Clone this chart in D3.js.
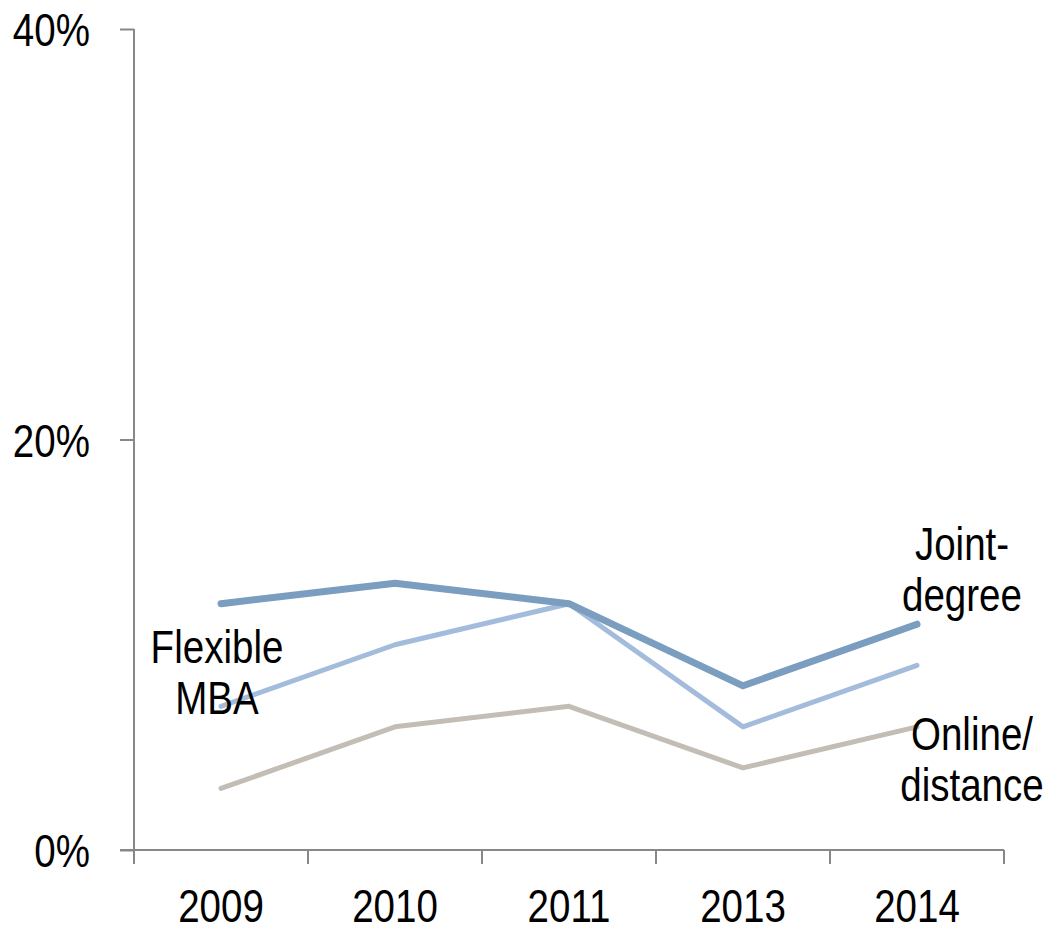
<!DOCTYPE html>
<html>
<head>
<meta charset="utf-8">
<script src="https://cdn.jsdelivr.net/npm/d3@7"></script>
<style>
  body { margin: 0; background: #fff; }
  svg text { font-family: "Liberation Sans", Arial, sans-serif; fill: #000; }
</style>
</head>
<body>
<svg id="chart" width="1049" height="926"></svg>
<script>
// data
const years = ["2009", "2010", "2011", "2013", "2014"];
const jointDegree = [12, 13, 12, 8, 11];
const flexibleMba = [7, 10, 12, 6, 9];
const onlineDistance = [3, 6, 7, 4, 6];
const yTicks = [0, 20, 40];

const series = [
  { name: "Online/distance", values: onlineDistance, color: "#c3bdb5", width: 5 },
  { name: "Flexible MBA", values: flexibleMba, color: "#a4bcdc", width: 5 },
  { name: "Joint-degree", values: jointDegree, color: "#7a9dc0", width: 7 }
];

const svg = d3.select("#chart");
const mLeft = 134, mRight = 1004, mTop = 29, mBottom = 850;
const fontSize = 47;
const squeeze = 0.82; // no narrow font installed, so squeeze Liberation Sans

// squeeze text horizontally around its anchor point
function narrow(sel) {
  sel.each(function () {
    const el = d3.select(this);
    const tx = +el.attr("x") || 0, ty = +el.attr("y") || 0;
    el.attr("transform", `translate(${tx},${ty}) scale(${squeeze},1) translate(${-tx},${-ty})`);
  });
}

const x = d3.scaleBand().domain(years).range([mLeft, mRight]);
const y = d3.scaleLinear().domain([0, 40]).range([mBottom, mTop]);

// y axis
const yAxis = svg.append("g")
  .attr("transform", `translate(${mLeft},0)`)
  .call(d3.axisLeft(y).tickValues(yTicks).tickSize(14).tickFormat(d => d + "%"));
yAxis.select(".domain").attr("stroke", "#888").attr("stroke-width", 2).attr("d", `M0,${mTop}V${mBottom}`);
yAxis.selectAll(".tick line").attr("stroke", "#888").attr("stroke-width", 2);
yAxis.selectAll(".tick text").attr("x", -44).attr("y", 0).attr("font-size", fontSize).attr("dy", "0.36em").call(narrow);

// x axis
const xAxis = svg.append("g")
  .attr("transform", `translate(0,${mBottom})`)
  .call(d3.axisBottom(x).tickSize(0).tickSizeOuter(0));
xAxis.select(".domain").attr("stroke", "#888").attr("stroke-width", 2).attr("d", `M${mLeft - 14},0H${mRight}`);
xAxis.selectAll(".tick text").attr("x", 0).attr("y", 72).attr("dy", 0).attr("font-size", fontSize).call(narrow);
// boundary ticks between categories
xAxis.selectAll(".bound")
  .data(years.map(d => x(d)).concat([x(years[years.length - 1]) + x.bandwidth()]))
  .join("line")
  .attr("class", "bound")
  .attr("x1", d => d).attr("x2", d => d)
  .attr("y1", 0).attr("y2", 14)
  .attr("stroke", "#888").attr("stroke-width", 2);

const line = d3.line()
  .x((d, i) => x(years[i]) + x.bandwidth() / 2)
  .y(d => y(d));

svg.append("g").selectAll("path")
  .data(series)
  .join("path")
  .attr("d", d => line(d.values))
  .attr("fill", "none")
  .attr("stroke", d => d.color)
  .attr("stroke-width", d => d.width)
  .attr("stroke-linecap", "round")
  .attr("stroke-linejoin", "round");

// labels
const labels = [
  { lines: ["Flexible", "MBA"], cx: 217, base: 663 },
  { lines: ["Joint-", "degree"], cx: 962, base: 560 },
  { lines: ["Online/", "distance"], cx: 972, base: 750 }
];
labels.forEach(l => {
  const t = svg.append("text")
    .attr("text-anchor", "middle")
    .attr("font-size", fontSize)
    .attr("x", l.cx).attr("y", l.base);
  l.lines.forEach((s, i) => {
    t.append("tspan").attr("x", l.cx).attr("y", l.base + i * 51).text(s);
  });
  t.call(narrow);
});
</script>
</body>
</html>
